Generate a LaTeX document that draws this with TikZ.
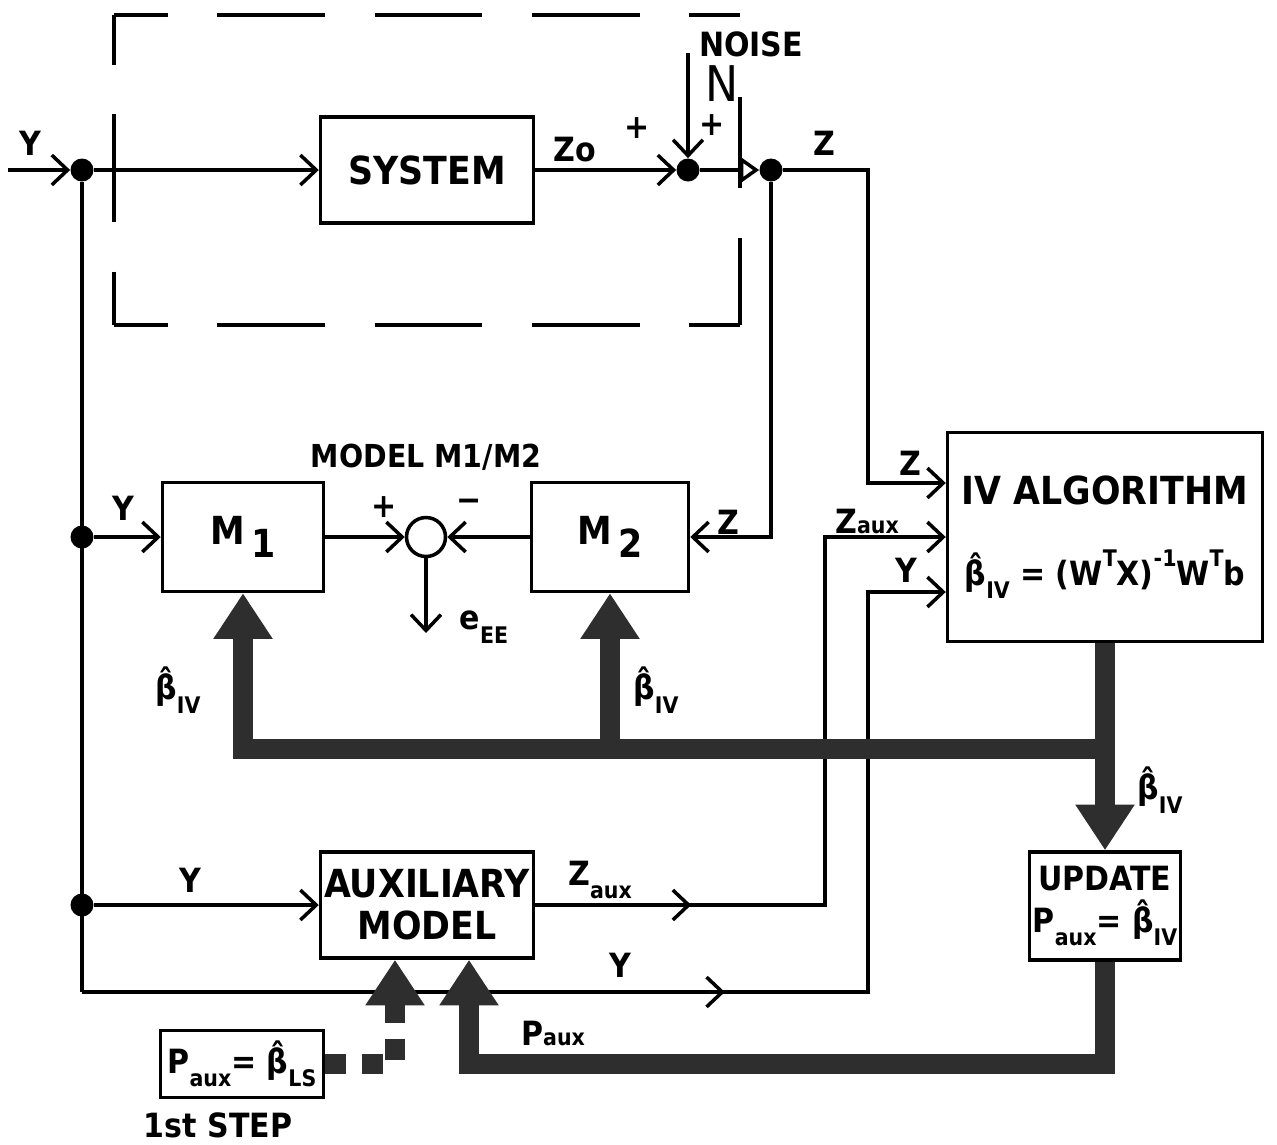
\documentclass[tikz,border=0pt]{standalone}
\usepackage{fontspec}
\setmainfont{DejaVu Sans Condensed}
\usetikzlibrary{arrows.meta, decorations.markings}

\newcommand{\bigtxt}{\fontsize{22}{24}\selectfont\bfseries}
\newcommand{\lbltxt}{\fontsize{19}{21}\selectfont\bfseries}
\newcommand{\subtxt}{\fontsize{13}{15}\selectfont\bfseries}
\newcommand{\hb}{β̂}
\newcommand{\dn}[1]{\raisebox{-0.4em}{\subtxt #1}}
\newcommand{\up}[1]{\raisebox{0.55em}{\subtxt #1}}
\newcommand{\bIV}{\hb\dn{IV}}

\begin{document}
\begin{tikzpicture}[x=0.02cm, y=-0.02cm,
  blk/.style={draw, line width=2pt, align=center, inner sep=2pt},
  dot/.style={circle, fill, inner sep=0pt, minimum size=0.46cm},
  ln/.style={line width=2pt},
  frame/.style={ln, dash pattern=on 61.2pt off 28.3pt, dash phase=#1},
  arr/.style={ln, -{Straight Barb[length=9pt, width=17pt, line width=2pt]}},
  midarr/.style={postaction={decorate}, decoration={markings,
    mark=at position #1 with {\arrow{Straight Barb[length=9pt, width=17pt, line width=2pt]}}}},
  fat/.style={line width=11pt, draw=black!82},
  fatarr/.style={fat, -{Triangle[length=26pt, width=32pt]}},
  lbl/.style={font=\lbltxt, inner sep=0pt}
]
  \useasboundingbox (0,0) rectangle (1277,1144);

  % Plant with its dashed frame
  \draw[frame=30.6pt] (114,15) -- (740,15);
  \draw[frame=30.6pt] (114,325) -- (740,325);
  \draw[frame=32.9pt] (114,15) -- (114,325);
  \draw[ln] (740,325) -- (740,238) (740,188) -- (740,97);
  \node[blk, minimum width=4.26cm, minimum height=2.12cm, font=\bigtxt] (sys) at (427,170) {SYSTEM};
  \node[dot] (dy) at (82,170) {};
  \node[dot] (sj) at (688,170) {};
  \node[dot] (zd) at (771,170) {};
  \coordinate (yin) at (8,170);
  \coordinate (nz) at (688,53);

  \draw[arr] (yin) -- (dy);
  \draw[arr] (dy) -- (sys);
  \draw[arr] (sys) -- (sj);
  \draw[arr] (nz) -- (sj);
  \draw[ln, -{Triangle[open, length=11pt, width=15pt, line width=2pt]}] (sj) -- (zd);

  \node[lbl] (ly0) at (30,143) {Y};
  \node[lbl] (lzo) at (575,150) {Zo};
  \node[lbl] (lp1) at (637,128) {+};
  \node[lbl] (lp2) at (712,125) {+};
  \node[lbl] (lnoise) at (751,44) {NOISE};
  \node[font=\fontsize{28}{30}\selectfont, inner sep=0pt] (ln) at (722,84) {N};
  \node[lbl] (lz0) at (824,143) {Z};

  % Model M1/M2
  \node[blk, minimum width=3.22cm, minimum height=2.18cm, font=\bigtxt] (m1) at (243,537) {M\,\raisebox{-0.35em}{1}};
  \node[blk, minimum width=3.14cm, minimum height=2.18cm, font=\bigtxt] (m2) at (610,537) {M\,\raisebox{-0.35em}{2}};
  \node[circle, draw, line width=2pt, minimum size=0.78cm, inner sep=0pt] (sc) at (426,537) {};
  \node[dot] (d1) at (82,537) {};
  \coordinate (ee) at (426,633);

  \draw[arr] (d1) -- (m1);
  \draw[arr] (m1) -- (sc);
  \draw[arr] (m2) -- (sc);
  \draw[arr] (sc) -- (ee);
  \draw[arr] (zd) |- (m2);

  \node[font=\fontsize{18}{20}\selectfont\bfseries, inner sep=0pt] (lmod) at (426,457) {MODEL M1/M2};
  \node[lbl] (ly1) at (123,508) {Y};
  \node[lbl] (lpl) at (384,507) {+};
  \node[lbl] (lmi) at (469,505) {\textminus};
  \node[lbl] (lee) at (484,627) {e\dn{EE}};
  \node[lbl] (lz1) at (728,522) {Z};
  \node[lbl] (lb1) at (178,690) {\bIV};
  \node[lbl] (lb2) at (656,690) {\bIV};

  % IV algorithm
  \node[blk, minimum width=6.3cm, minimum height=4.18cm, font=\bigtxt] (iv) at (1105,537)
    {IV ALGORITHM\\[22pt]
     {\lbltxt\bIV{} = (W\up{T}X)\up{-1}W\up{T}b}};
  \coordinate (zr) at (868,483);
  \coordinate (za) at (825,537);
  \coordinate (yr) at (868,592);
  \coordinate (yc) at (82,992);

  \draw[arr] (zd) -| (zr) -- (zr -| iv.west);
  \node[lbl] (lz2) at (910,463) {Z};
  \node[lbl] (lza) at (867,521) {Z{\subtxt aux}};
  \node[lbl] (ly2) at (906,570) {Y};

  % Auxiliary model
  \node[dot] (da) at (82,905) {};
  \node[blk, minimum width=4.26cm, minimum height=2.12cm, font=\bigtxt] (aux) at (427,905) {AUXILIARY\\MODEL};
  \draw[ln] (dy) -- (yc);
  \draw[arr] (da) -- (aux);
  \draw[arr, midarr=3.12cm] (aux) -| (za) -- (za -| iv.west);
  \draw[arr, midarr=12.86cm] (yc) -| (yr) -- (yr -| iv.west);

  \node[lbl] (ly3) at (190,880) {Y};
  \node[lbl] (lza2) at (600,880) {Z\dn{aux}};
  \node[lbl] (ly4) at (620,965) {Y};

  % Update and parameter paths
  \node[blk, minimum width=2.94cm, minimum height=2.16cm, font=\lbltxt] (upd) at (1105,906)
    {UPDATE\\[3pt]P\dn{aux}= \bIV};
  \node[blk, minimum width=3.26cm, minimum height=1.34cm, font=\lbltxt] (ls) at (242,1064)
    {P\dn{aux}= \hb\dn{LS}};
  \node[lbl] (lst) at (218,1125) {1st STEP};

  \coordinate (bj) at (1105,749);
  \coordinate (pb) at (469,1064);
  \coordinate (pl) at (395,1064);

  \draw[fatarr] (iv) -- (upd);
  \draw[fatarr] (bj) -| (m1);
  \draw[fatarr] (bj -| m2) -- (m2);
  \draw[fatarr] (upd) |- (pb) -- (pb |- aux.south);
  \draw[fatarr, dash pattern=on 12pt off 9pt] (ls) -- (pl) -- (pl |- aux.south);

  \node[lbl] (lb3) at (1160,790) {\bIV};
  \node[lbl] (lpa) at (553,1033) {P{\subtxt aux}};

\end{tikzpicture}
\end{document}
